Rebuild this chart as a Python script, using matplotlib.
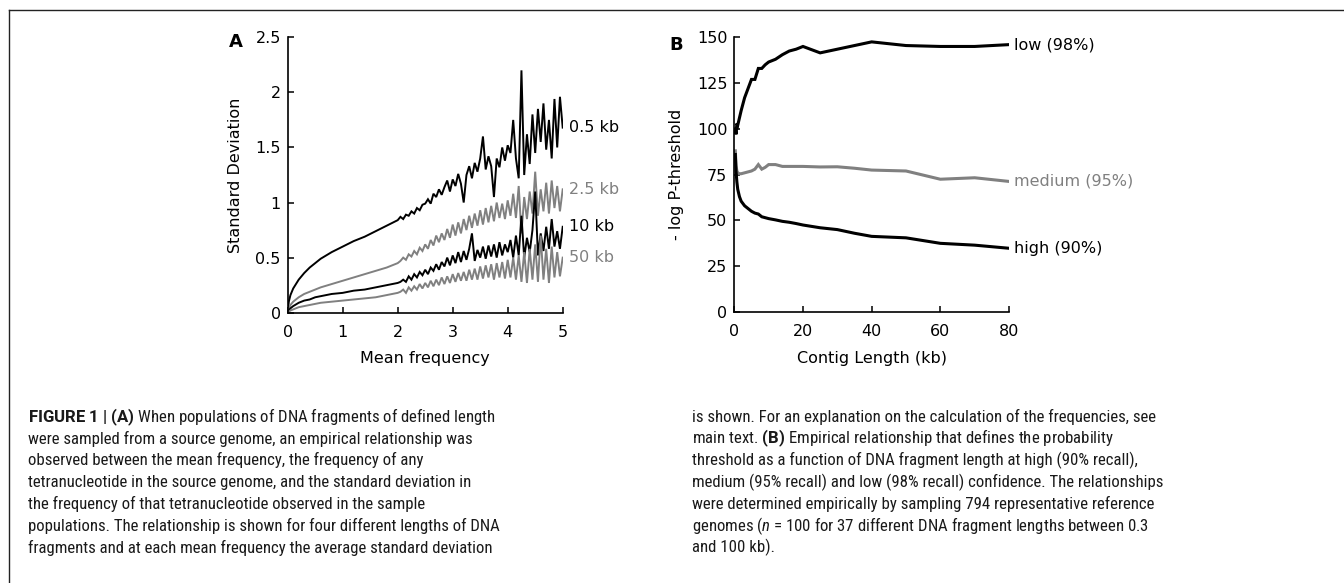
import matplotlib
matplotlib.use('Agg')
import matplotlib.pyplot as plt
import matplotlib.font_manager as fm
from matplotlib.lines import Line2D

# panel A: standard deviation vs mean frequency, one curve per fragment length
MEAN_FREQ = [0, 0.02, 0.05, 0.1, 0.2, 0.3, 0.4, 0.5, 0.6, 0.8, 1.0, 1.2, 1.4, 1.6, 1.8, 2.0,
	2.05, 2.1, 2.15, 2.2, 2.25, 2.3, 2.35, 2.4, 2.45, 2.5,
	2.55, 2.6, 2.65, 2.7, 2.75, 2.8, 2.85, 2.9, 2.95, 3.0,
	3.05, 3.1, 3.15, 3.2, 3.25, 3.3, 3.35, 3.4, 3.45, 3.5,
	3.55, 3.6, 3.65, 3.7, 3.75, 3.8, 3.85, 3.9, 3.95, 4.0,
	4.05, 4.1, 4.15, 4.2, 4.25, 4.3, 4.35, 4.4, 4.45, 4.5,
	4.55, 4.6, 4.65, 4.7, 4.75, 4.8, 4.85, 4.9, 4.95, 5.0]

SD_05KB = [0, 0.1, 0.16, 0.22, 0.3, 0.36, 0.41, 0.45, 0.49, 0.55, 0.6, 0.65, 0.69, 0.74, 0.79, 0.84,
	0.87, 0.85, 0.89, 0.88, 0.92, 0.90, 0.95, 0.93, 0.98, 0.99,
	1.03, 0.99, 1.08, 1.05, 1.12, 1.07, 1.14, 1.20, 1.10, 1.21,
	1.15, 1.26, 1.17, 1.00, 1.25, 1.33, 1.22, 1.36, 1.28, 1.40,
	1.60, 1.30, 1.42, 1.33, 1.05, 1.40, 1.32, 1.50, 1.38, 1.52,
	1.45, 1.75, 1.40, 1.22, 2.20, 1.25, 1.62, 1.35, 1.80, 1.45,
	1.85, 1.55, 1.90, 1.48, 1.75, 1.40, 1.94, 1.50, 1.96, 1.68]

SD_25KB = [0, 0.04, 0.07, 0.1, 0.14, 0.17, 0.19, 0.21, 0.23, 0.26, 0.29, 0.32, 0.35, 0.38, 0.41, 0.45,
	0.47, 0.50, 0.48, 0.53, 0.51, 0.56, 0.53, 0.59, 0.56, 0.62,
	0.58, 0.66, 0.61, 0.70, 0.64, 0.72, 0.66, 0.76, 0.68, 0.80,
	0.70, 0.82, 0.72, 0.85, 0.75, 0.88, 0.77, 0.90, 0.79, 0.93,
	0.80, 0.95, 0.82, 0.97, 0.83, 1.00, 0.86, 0.99, 0.85, 1.02,
	0.88, 1.08, 0.86, 1.15, 0.72, 1.05, 0.85, 1.10, 0.90, 1.28,
	0.88, 1.12, 0.92, 1.18, 0.90, 1.20, 0.95, 1.15, 0.92, 1.12]

SD_10KB = [0, 0.02, 0.04, 0.06, 0.09, 0.11, 0.12, 0.14, 0.15, 0.17, 0.18, 0.2, 0.21, 0.23, 0.25, 0.27,
	0.28, 0.30, 0.28, 0.33, 0.30, 0.35, 0.32, 0.37, 0.34, 0.39,
	0.35, 0.41, 0.38, 0.44, 0.39, 0.46, 0.42, 0.50, 0.43, 0.52,
	0.45, 0.55, 0.46, 0.56, 0.48, 0.58, 0.72, 0.47, 0.57, 0.50,
	0.60, 0.49, 0.61, 0.51, 0.62, 0.50, 0.64, 0.52, 0.62, 0.55,
	0.66, 0.50, 0.70, 0.52, 0.88, 0.50, 0.68, 0.55, 0.75, 1.10,
	0.52, 0.72, 0.56, 0.78, 0.58, 0.85, 0.60, 0.74, 0.58, 0.78]

SD_50KB = [0, 0.01, 0.02, 0.03, 0.05, 0.06, 0.07, 0.08, 0.09, 0.1, 0.11, 0.12, 0.13, 0.14, 0.16, 0.18,
	0.19, 0.21, 0.18, 0.23, 0.20, 0.24, 0.21, 0.26, 0.22, 0.27,
	0.23, 0.29, 0.24, 0.30, 0.25, 0.32, 0.26, 0.33, 0.27, 0.35,
	0.28, 0.36, 0.29, 0.37, 0.29, 0.39, 0.30, 0.40, 0.30, 0.42,
	0.31, 0.43, 0.32, 0.44, 0.30, 0.45, 0.32, 0.46, 0.31, 0.48,
	0.32, 0.50, 0.30, 0.52, 0.28, 0.55, 0.27, 0.58, 0.30, 0.62,
	0.28, 0.70, 0.30, 0.58, 0.27, 0.60, 0.32, 0.55, 0.33, 0.50]

SD_LABELS = ['0.5 kb', '2.5 kb', '10 kb', '50 kb']

# panel B: -log P threshold vs contig length
CONTIG_KB = [0.3, 0.5, 0.75, 1, 1.5, 2, 3, 4, 5, 6, 7, 8, 9, 10, 12, 14, 16, 18, 20,
	25, 30, 35, 40, 50, 60, 70, 80]
THR_LOW = [100, 97, 103, 102, 106, 110, 117, 122, 127, 127, 133, 133, 135, 136.5, 138, 140.5,
	142.5, 143.5, 145, 141.5, 143.5, 145.5, 147.5, 145.5, 145, 145, 146]
THR_MEDIUM = [88, 80, 77, 76, 75.5, 75.5, 76, 76.5, 77, 78, 80.5, 78, 79, 80.5, 80.5, 79.5,
	79.5, 79.5, 79.5, 79.2, 79.3, 78.5, 77.5, 77, 72.5, 73.3, 71.3]
THR_HIGH = [86, 77, 71, 67, 63, 60.5, 58, 56.5, 55, 54, 53.5, 52, 51.5, 51, 50.3, 49.5,
	49, 48.3, 47.5, 46, 45, 43, 41.3, 40.5, 37.5, 36.5, 34.8]
THR_LABELS = ['low (98%)', 'medium (95%)', 'high (90%)']

CAPTION_LEFT = [
	r'$\mathbf{FIGURE\ 1\ |\ (A)}$ When populations of DNA fragments of defined length',
	'were sampled from a source genome, an empirical relationship was',
	'observed between the mean frequency, the frequency of any',
	'tetranucleotide in the source genome, and the standard deviation in',
	'the frequency of that tetranucleotide observed in the sample',
	'populations. The relationship is shown for four different lengths of DNA',
	'fragments and at each mean frequency the average standard deviation',
]
CAPTION_RIGHT = [
	'is shown. For an explanation on the calculation of the frequencies, see',
	r'main text. $\mathbf{(B)}$ Empirical relationship that defines the probability',
	'threshold as a function of DNA fragment length at high (90% recall),',
	'medium (95% recall) and low (98% recall) confidence. The relationships',
	'were determined empirically by sampling 794 representative reference',
	r'genomes ($n$ = 100 for 37 different DNA fragment lengths between 0.3',
	'and 100 kb).',
]

GRAY = '#808080'
FS = 11.5
W, H = 1344, 583


def style_axes(ax):
	for side in ['top', 'right']:
		ax.spines[side].set_visible(False)
	for side in ['left', 'bottom']:
		ax.spines[side].set_linewidth(1.2)
	ax.tick_params(direction='in', length=4, width=1.1, labelsize=FS)
	ax.tick_params(axis='x', pad=9)
	ax.tick_params(axis='y', pad=5)


def plot_sd(ax):
	series = [SD_05KB, SD_25KB, SD_10KB, SD_50KB]
	colors = ['black', GRAY, 'black', GRAY]
	for sd, c, lab in zip(series, colors, SD_LABELS):
		ax.plot(MEAN_FREQ, sd, color=c, lw=1.4, solid_joinstyle='miter')
		ax.annotate(lab, xy=(MEAN_FREQ[-1], sd[-1]), xytext=(4.5, 0),
			textcoords='offset points', va='center', ha='left',
			fontsize=FS, color=c, annotation_clip=False)
	ax.set_xlim(0, 5)
	ax.set_ylim(0, 2.5)
	ax.set_xticks([0, 1, 2, 3, 4, 5])
	ax.set_yticks([0, 0.5, 1, 1.5, 2, 2.5])
	ax.set_yticklabels(['0', '0.5', '1', '1.5', '2', '2.5'])
	ax.set_xlabel('Mean frequency', fontsize=FS, labelpad=8)
	ax.set_ylabel('Standard Deviation', fontsize=FS, labelpad=8.5)
	style_axes(ax)


def plot_threshold(ax):
	series = [THR_LOW, THR_MEDIUM, THR_HIGH]
	colors = ['black', GRAY, 'black']
	for thr, c, lab in zip(series, colors, THR_LABELS):
		ax.plot(CONTIG_KB, thr, color=c, lw=2.2, solid_joinstyle='miter')
		ax.annotate(lab, xy=(CONTIG_KB[-1], thr[-1]), xytext=(3.5, 0),
			textcoords='offset points', va='center', ha='left',
			fontsize=FS, color=c, annotation_clip=False)
	ax.set_xlim(0, 80)
	ax.set_ylim(0, 150)
	ax.set_xticks([0, 20, 40, 60, 80])
	ax.set_yticks([0, 25, 50, 75, 100, 125, 150])
	ax.set_xlabel('Contig Length (kb)', fontsize=FS, labelpad=8)
	ax.set_ylabel('- log P-threshold', fontsize=FS, labelpad=9.5)
	style_axes(ax)


def pick_font(candidates, fallback):
	names = set(f.name for f in fm.fontManager.ttflist)
	for name in candidates:
		if name in names:
			return name
	return fallback


def main():
	cap_font = pick_font(['Liberation Sans Narrow', 'Roboto Condensed', 'Roboto'], 'Liberation Sans')
	bold_font = pick_font(['Roboto', 'Liberation Sans'], cap_font)
	plt.rcParams['mathtext.fontset'] = 'custom'
	plt.rcParams['mathtext.rm'] = cap_font
	plt.rcParams['mathtext.bf'] = bold_font + ':bold'
	plt.rcParams['mathtext.it'] = cap_font + ':italic'

	fig = plt.figure(figsize=(W / 100, H / 100), dpi=100)
	ax_a = fig.add_axes([287.7 / W, 1 - 312.7 / H, 275 / W, 275.4 / H])
	ax_b = fig.add_axes([734.3 / W, 1 - 312 / H, 274.7 / W, 274.7 / H])
	plot_sd(ax_a)
	plot_threshold(ax_b)

	fig.text(235.5 / W, 1 - 41.7 / H, 'A', fontsize=13, fontweight='bold', ha='center', va='center')
	fig.text(676 / W, 1 - 45 / H, 'B', fontsize=13, fontweight='bold', ha='center', va='center')

	# frame lines (top and left)
	fig.add_artist(Line2D([9 / W, 1], [1 - 10 / H, 1 - 10 / H], color='#222222', lw=1.0))
	fig.add_artist(Line2D([9 / W, 9 / W], [0, 1 - 10 / H], color='#222222', lw=1.0))

	# caption size chosen so the widest left line spans about the same width as in the figure
	renderer = fig.canvas.get_renderer()
	probe = fig.text(0, 0, CAPTION_LEFT[5], fontsize=13.5, family=cap_font)
	width = probe.get_window_extent(renderer).width
	probe.remove()
	cap_size = 13.5 * 472.0 / width

	for i in range(len(CAPTION_LEFT)):
		y = 1 - (422 + 21.75 * i) / H
		fig.text(28 / W, y, CAPTION_LEFT[i], fontsize=cap_size, family=cap_font,
			va='baseline', ha='left', color='#1a1a1a')
		fig.text(692 / W, y, CAPTION_RIGHT[i], fontsize=cap_size, family=cap_font,
			va='baseline', ha='left', color='#1a1a1a')

	fig.savefig('out.png', dpi=100)


if __name__ == '__main__':
	main()
